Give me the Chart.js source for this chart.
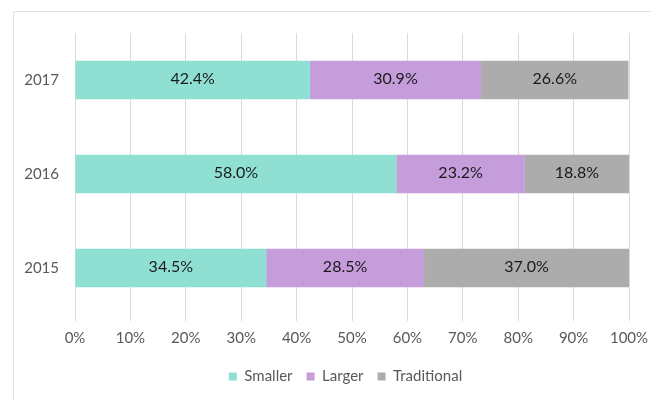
<!DOCTYPE html>
<html>
<head>
<meta charset="utf-8">
<script src="https://cdn.jsdelivr.net/npm/chart.js@4.4.0/dist/chart.umd.min.js"></script>
<style>
  html, body { margin: 0; padding: 0; background: #fff; }
  #wrap { position: relative; width: 651px; height: 400px; overflow: hidden; }
  #frame { position: absolute; left: 13px; top: 11px; width: 700px; height: 500px; border: 1px solid #e2e2e2; box-sizing: border-box; }
  canvas { position: absolute; left: 0; top: 0; }
</style>
</head>
<body>
<div id="wrap">
  <div id="frame"></div>
  <canvas id="c" width="651" height="400"></canvas>
</div>
<script>
const categories = ['2017', '2016', '2015'];
const smaller = [42.4, 58.0, 34.5];
const larger = [30.9, 23.2, 28.5];
const traditional = [26.6, 18.8, 37.0];
const seriesNames = ['Smaller', 'Larger', 'Traditional'];
const xTicks = [0, 10, 20, 30, 40, 50, 60, 70, 80, 90, 100];

const FONT = "Lato, 'Open Sans', sans-serif";

const barLabels = {
  id: 'barLabels',
  afterDatasetsDraw(chart) {
    const ctx = chart.ctx;
    ctx.save();
    ctx.font = "16px " + FONT;
    ctx.fillStyle = '#1a1a1a';
    ctx.textAlign = 'center';
    ctx.textBaseline = 'middle';
    chart.data.datasets.forEach((ds, i) => {
      const meta = chart.getDatasetMeta(i);
      meta.data.forEach((el, j) => {
        const p = el.getCenterPoint();
        ctx.fillText(ds.data[j].toFixed(1) + '%', p.x, p.y - 1);
      });
    });
    ctx.restore();
  }
};

const legendShift = {
  id: 'legendShift',
  afterLayout(chart) {
    const lg = chart.legend;
    if (lg) { lg.left += 40; }
  }
};

new Chart(document.getElementById('c'), {
  type: 'bar',
  data: {
    labels: categories,
    datasets: [
      { label: seriesNames[0], data: smaller, backgroundColor: '#8fe0d3' },
      { label: seriesNames[1], data: larger, backgroundColor: '#c59ddb' },
      { label: seriesNames[2], data: traditional, backgroundColor: '#acacac' }
    ]
  },
  options: {
    indexAxis: 'y',
    responsive: false,
    animation: false,
    devicePixelRatio: 1,
    barPercentage: 0.41,
    categoryPercentage: 1,
    layout: { padding: { top: 33, right: 0, bottom: 6, left: 0 } },
    scales: {
      x: {
        stacked: true,
        min: 0, max: 100,
        afterBuildTicks(scale) { scale.ticks = xTicks.map(v => ({ value: v })); },
        afterFit(scale) { scale.paddingRight = 22; },
        ticks: {
          callback: v => v + '%',
          color: '#595959',
          font: { family: FONT, size: 15 },
          padding: 8,
          maxRotation: 0
        },
        grid: { color: '#dadada', lineWidth: 1, tickLength: 6, drawTicks: true },
        border: { display: false }
      },
      y: {
        stacked: true,
        afterFit(scale) { scale.width = 75; },
        ticks: {
          color: '#595959',
          font: { family: FONT, size: 15 },
          padding: 16
        },
        grid: { display: false, drawTicks: false },
        border: { display: false }
      }
    },
    plugins: {
      legend: {
        position: 'bottom',
        labels: {
          boxWidth: 8,
          boxHeight: 8,
          color: '#595959',
          font: { family: FONT, size: 15 },
          padding: 14
        }
      },
      tooltip: { enabled: false }
    }
  },
  plugins: [barLabels, legendShift]
});
</script>
</body>
</html>
